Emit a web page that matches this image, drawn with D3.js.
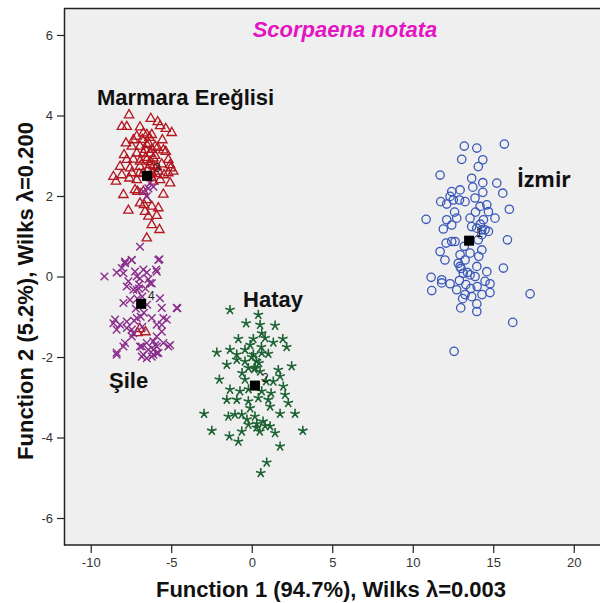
<!DOCTYPE html>
<html>
<head>
<meta charset="utf-8">
<script src="https://cdn.jsdelivr.net/npm/d3@7"></script>
<style>
	body { margin: 0; background: #fff; }
	svg { display: block; font-family: Arial, "Liberation Sans", sans-serif; }
	.tick text { font-size: 13px; fill: #333; }
</style>
</head>
<body>
<svg id="chart" width="600" height="603"></svg>
<script>
// discriminant scores: [function 1, function 2]
var izmir = [
	[13.2,3.24],[13.98,3.19],[15.69,3.29],[13.04,2.91],[14.35,2.90],[14.07,2.73],[11.7,2.52],
	[13.66,2.44],[14.35,2.33],[15.22,2.32],[12.94,2.15],[13.73,2.22],[14.35,2.09],[15.59,2.07],
	[12.42,2.11],[12.32,1.99],[11.74,1.86],[12.11,1.80],[12.52,1.90],[13.25,1.86],[13.87,1.95],
	[14.18,1.74],[14.6,1.78],[14.7,1.61],[15.11,1.45],[16.0,1.67],[10.83,1.42],[12.11,1.41],
	[12.42,1.28],[11.9,1.18],[12.73,1.45],[13.56,1.45],[13.66,1.24],[13.98,1.20],[14.39,1.41],
	[14.49,1.16],[14.7,1.12],[14.29,1.04],[15.88,0.91],[12.07,0.83],[12.42,0.87],[12.63,0.87],
	[11.7,0.62],[12.94,0.54],[13.56,0.58],[14.29,0.66],[12.0,0.41],[12.83,0.33],[13.25,0.41],
	[15.63,0.21],[12.94,0.25],[13.14,0.08],[13.56,0.04],[13.98,0.25],[14.6,0.12],[13.87,0.0],
	[11.14,-0.02],[11.8,-0.08],[12.32,-0.18],[12.73,-0.33],[11.18,-0.35],[11.8,-0.16],[13.25,-0.45],
	[13.66,-0.50],[14.49,-0.12],[14.8,-0.18],[14.8,-0.40],[13.98,-0.68],[13.98,-0.87],[12.98,-0.78],
	[17.29,-0.43],[16.21,-1.14],[12.57,-1.86],[14.07,0.91],[14.29,1.16],
	[13.0,0.2],[13.3,-0.2],[13.6,-0.3],[12.9,-0.1],[13.4,0.1],[14.0,-0.25],[13.1,-0.55],
	[14.3,-0.45],[12.6,1.6],[12.9,1.9],[13.9,1.6],[14.2,1.3],[13.2,0.75],[14.1,0.5]
];

var hatay = [
	[-1.35,-0.83],[0.41,-0.95],[-0.35,-1.16],[0.52,-1.20],[1.45,-1.22],[0.62,-1.41],[-0.83,-1.55],
	[0.1,-1.55],[0.83,-1.53],[1.34,-1.64],[1.93,-1.55],[2.17,-1.75],[-2.17,-1.89],[-1.35,-1.82],
	[-0.93,-1.94],[-0.42,-1.82],[0.1,-1.94],[0.62,-1.90],[1.03,-1.92],[-1.55,-2.19],[-0.93,-2.07],
	[-0.42,-2.11],[-0.21,-2.27],[0.21,-2.27],[0.52,-2.36],[1.65,-2.32],[2.48,-2.23],[1.76,-2.48],
	[-2.01,-2.56],[-0.42,-2.56],[1.34,-2.61],[1.96,-2.73],[-1.35,-2.81],[-0.73,-2.85],[0.62,-2.85],
	[-1.55,-3.06],[-0.93,-3.06],[-0.21,-3.10],[0.41,-3.02],[1.03,-3.06],[2.07,-2.94],[2.27,-3.14],
	[-0.1,-3.27],[1.14,-3.23],[-2.96,-3.41],[-1.45,-3.48],[-1.04,-3.43],[-0.62,-3.43],[0.2,-3.48],
	[1.76,-3.41],[2.69,-3.41],[-0.21,-3.68],[0.31,-3.66],[0.83,-3.71],[1.14,-3.72],[-2.48,-3.83],
	[-0.62,-3.85],[1.45,-3.89],[3.17,-3.83],[-1.39,-3.97],[-0.83,-4.10],[1.76,-4.22],[0.93,-4.62],
	[0.56,-4.88],
	[0.0,-2.0],[0.3,-2.1],[0.15,-2.3],[0.45,-2.15],[-0.1,-1.7],[0.6,-1.75],[0.3,-3.75],[0.7,-3.6],
	[-0.3,-3.55],[0.5,-3.85],[-0.6,-2.4],[0.9,-2.6],[-0.2,-2.8],[1.2,-2.9]
];

var marmara = [
	[-7.62,4.01],[-6.27,3.92],[-5.84,3.84],
	[-8.07,3.72],[-7.76,3.72],[-6.94,3.71],[-5.69,3.74],[-5.34,3.67],[-4.97,3.57],
	[-7.14,3.48],[-6.73,3.56],[-6.52,3.52],[-6.21,3.52],[-5.55,3.39],[-7.35,3.39],
	[-7.81,3.31],[-7.45,3.23],[-6.94,3.23],[-6.52,3.27],[-6.00,3.23],[-5.49,3.14],
	[-7.14,3.06],[-6.73,3.06],[-6.31,3.05],[-5.34,3.10],[-7.93,3.02],
	[-7.76,2.90],[-7.35,2.91],[-6.94,2.86],[-6.52,2.90],[-6.11,2.94],[-5.18,2.90],
	[-8.18,2.73],[-7.56,2.69],[-6.94,2.73],[-6.31,2.77],[-5.90,2.73],[-5.59,2.79],[-5.07,2.77],[-5.03,2.69],
	[-8.59,2.48],[-8.07,2.52],[-7.45,2.57],[-6.73,2.57],[-6.21,2.58],[-5.80,2.61],[-5.45,2.52],[-5.18,2.57],[-4.87,2.61],
	[-8.43,2.36],[-7.60,2.44],[-7.14,2.40],[-6.11,2.36],[-5.69,2.40],[-5.07,2.32],
	[-7.25,2.15],[-6.73,2.11],[-7.10,2.11],[-5.49,2.04],[-7.97,2.03],
	[-6.52,1.90],[-6.94,1.82],[-6.69,1.78],[-6.21,1.74],[-5.80,1.70],[-7.66,1.64],[-6.63,1.61],
	[-6.42,1.49],[-5.90,1.51],[-6.21,1.28],[-5.73,1.16],[-6.52,0.95],
	[-6.4,3.3],[-6.2,3.15],[-6.0,3.0],[-6.3,2.85],[-6.6,2.95],[-6.1,2.75],[-6.45,2.65],
	[-5.95,2.55],[-6.8,3.4],[-6.35,3.45],[-6.6,3.15],[-5.85,3.2],[-6.2,2.45],[-7.0,2.55],
	[-6.95,-1.3],[-6.6,-1.38],[-7.1,-1.4]
];

var sile = [
	[-6.94,0.74],[-5.73,0.43],[-9.15,0.0],[-8.39,0.10],[-8.07,0.21],[-7.87,0.33],[-7.45,0.41],
	[-6.73,0.17],[-6.52,0.10],[-5.94,0.17],[-7.14,0.0],[-6.42,-0.07],[-6.21,-0.17],[-7.76,-0.25],
	[-7.14,-0.33],[-6.31,2.32],[-6.42,2.19],[-6.11,2.23],[-6.52,1.99],[-6.73,2.11],
	[-4.62,-0.79],[-8.59,-1.16],[-8.18,-1.20],[-7.76,-1.12],[-7.45,-1.32],[-7.14,-1.03],[-6.21,-1.03],
	[-5.90,-1.20],[-5.49,-1.03],[-5.59,-1.37],[-5.90,-1.49],[-6.11,-1.61],[-6.52,-1.65],[-6.83,-1.74],
	[-6.42,-1.82],[-6.11,-1.82],[-5.90,-1.74],[-5.18,-1.74],[-5.07,-1.70],[-8.39,-1.89],[-7.87,-1.65],
	[-6.83,-1.99],[-6.52,-2.03],[-6.11,-1.94],[-5.90,-1.90],[-5.49,-1.65],[-7.35,-1.41],
	[-7.87,0.37],[-7.46,0.41],[-7.97,0.08],[-7.25,0.12],[-5.8,0.41],[-5.9,0.12],[-7.66,-0.12],
	[-6.32,-0.16],[-7.35,-0.33],[-5.7,-0.54],[-4.66,-0.78],[-7.97,-0.66],[-7.56,-0.58],[-5.59,-0.78],
	[-5.28,-1.07],[-8.49,-1.07],[-7.76,-1.28],[-8.39,-1.32],[-5.59,-1.2],[-7.45,-1.49],[-7.97,-1.74],
	[-8.39,-1.94],[-6.94,-1.74],[-6.0,-1.70],[-6.73,-1.94],[-6.21,-1.99],[-5.8,-1.9],
	[-7.0,-0.3],[-6.8,-0.5],[-7.2,-0.8],[-6.9,-1.0],[-7.0,-0.2],[-6.7,-0.9],[-7.1,-0.55],
	[-6.6,-0.3],[-7.3,-1.1],[-6.8,-1.25],[-6.95,-0.05],[-6.5,-0.7]
];

// group centroids, numbered as in the SPSS output
var centroids = [
	{"id": "1", "f1": 13.5, "f2": 0.89},
	{"id": "2", "f1": 0.2, "f2": -2.71},
	{"id": "3", "f1": -6.5, "f2": 2.5},
	{"id": "4", "f1": -6.87, "f2": -0.68}
];

var groupLabels = [
	{"name": "Marmara Ereğlisi", "f1": -4.11, "f2": 4.26},
	{"name": "İzmir", "f1": 18.15, "f2": 2.22},
	{"name": "Hatay", "f1": 1.32, "f2": -0.75},
	{"name": "Şile", "f1": -7.65, "f2": -2.76}
];

var xTicks = [-10, -5, 0, 5, 10, 15, 20];
var yTicks = [-6, -4, -2, 0, 2, 4, 6];

var svg = d3.select("#chart");

var plotLeft = 64, plotTop = 8, plotBottom = 545, plotRight = 600;

var xScale = d3.scaleLinear()
		.domain([-11.66, 21.63])
		.range([plotLeft, plotRight]);
var yScale = d3.scaleLinear()
		.domain([-6.67, 6.67])
		.range([plotBottom, plotTop]);

svg.append("rect")
	.attr("x", plotLeft).attr("y", plotTop)
	.attr("width", plotRight - plotLeft + 10).attr("height", plotBottom - plotTop)
	.attr("fill", "#efefef");

svg.append("line")
	.attr("x1", plotLeft).attr("x2", plotRight + 10)
	.attr("y1", plotTop + 0.5).attr("y2", plotTop + 0.5)
	.attr("stroke", "#222").attr("stroke-width", 1.5);

// plain hyphen for negatives, like the SPSS output
var fmt = function(d) { return String(d); };

var xAxis = d3.axisBottom(xScale).tickValues(xTicks).tickFormat(fmt).tickSize(8).tickPadding(5).tickSizeOuter(0);
var yAxis = d3.axisLeft(yScale).tickValues(yTicks).tickFormat(fmt).tickSize(7).tickPadding(4).tickSizeOuter(0);

var gx = svg.append("g")
	.attr("transform", "translate(0," + plotBottom + ")")
	.call(xAxis);
var gy = svg.append("g")
	.attr("transform", "translate(" + plotLeft + ",0)")
	.call(yAxis);

[gx, gy].forEach(function(g) {
	g.selectAll(".domain").attr("stroke", "#222").attr("stroke-width", 1.5);
	g.selectAll(".tick line").attr("stroke", "#222").attr("stroke-width", 1.2);
	g.selectAll(".tick text").attr("font-family", "Arial, 'Liberation Sans', sans-serif");
});
gx.select(".domain").attr("d", "M" + plotLeft + ",0H" + (plotRight + 10));

// marker shapes
function crossPath(s)
{
	return "M" + (-s) + "," + (-s) + "L" + s + "," + s + "M" + (-s) + "," + s + "L" + s + "," + (-s);
}

function starPath(r)
{
	var p = "";
	for(var i = 0; i < 5; i++)
	{
		var a = -Math.PI / 2 + i * 2 * Math.PI / 5;
		p += "M0,0L" + (r * Math.cos(a)).toFixed(2) + "," + (r * Math.sin(a)).toFixed(2);
	}
	return p;
}

var triangle = d3.symbol().type(d3.symbolTriangle).size(38)();
var circle = d3.symbol().type(d3.symbolCircle).size(55)();

function drawGroup(data, path, colour, width)
{
	svg.append("g").selectAll("path")
		.data(data)
		.enter()
		.append("path")
		.attr("d", path)
		.attr("transform", function(d) {
			return "translate(" + xScale(d[0]) + "," + yScale(d[1]) + ")";
		})
		.attr("fill", "none")
		.attr("stroke", colour)
		.attr("stroke-width", width);
}

drawGroup(izmir, circle, "#3a58b8", 1.3);
drawGroup(hatay, starPath(5), "#1d6233", 1.6);
drawGroup(marmara, triangle, "#b3161f", 1.3);
drawGroup(sile, crossPath(3.8), "#8a2d8c", 1.4);

// centroids
svg.append("g").selectAll("rect")
	.data(centroids)
	.enter()
	.append("rect")
	.attr("x", function(d) { return xScale(d.f1) - 5; })
	.attr("y", function(d) { return yScale(d.f2) - 5; })
	.attr("width", 10).attr("height", 10)
	.attr("fill", "#000");

svg.append("g").selectAll("text")
	.data(centroids)
	.enter()
	.append("text")
	.attr("x", function(d) { return xScale(d.f1) + 7; })
	.attr("y", function(d) { return yScale(d.f2) - 4; })
	.attr("font-size", 12)
	.attr("fill", "#222")
	.text(function(d) { return d.id; });

// group names
svg.append("g").selectAll("text")
	.data(groupLabels)
	.enter()
	.append("text")
	.attr("x", function(d) { return xScale(d.f1); })
	.attr("y", function(d) { return yScale(d.f2); })
	.attr("text-anchor", "middle")
	.attr("font-size", function(d) { return d.name == "İzmir" ? 21 : 22; })
	.attr("font-family", function(d) { return d.name == "İzmir" ? "'Open Sans', 'Noto Sans', sans-serif" : null; })
	.attr("font-weight", "bold")
	.attr("fill", "#111")
	.text(function(d) { return d.name; });

svg.append("text")
	.attr("x", 345).attr("y", 37)
	.attr("text-anchor", "middle")
	.attr("font-size", 22)
	.attr("font-weight", "bold")
	.attr("font-style", "italic")
	.attr("fill", "#e414c4")
	.text("Scorpaena notata");

svg.append("text")
	.attr("x", 331).attr("y", 597)
	.attr("text-anchor", "middle")
	.attr("font-size", 22)
	.attr("font-weight", "bold")
	.attr("fill", "#111")
	.text("Function 1 (94.7%), Wilks λ=0.003");

svg.append("text")
	.attr("transform", "translate(33,291) rotate(-90)")
	.attr("text-anchor", "middle")
	.attr("font-size", 22)
	.attr("font-weight", "bold")
	.attr("fill", "#111")
	.text("Function 2 (5.2%), Wilks λ=0.200");
</script>
</body>
</html>
